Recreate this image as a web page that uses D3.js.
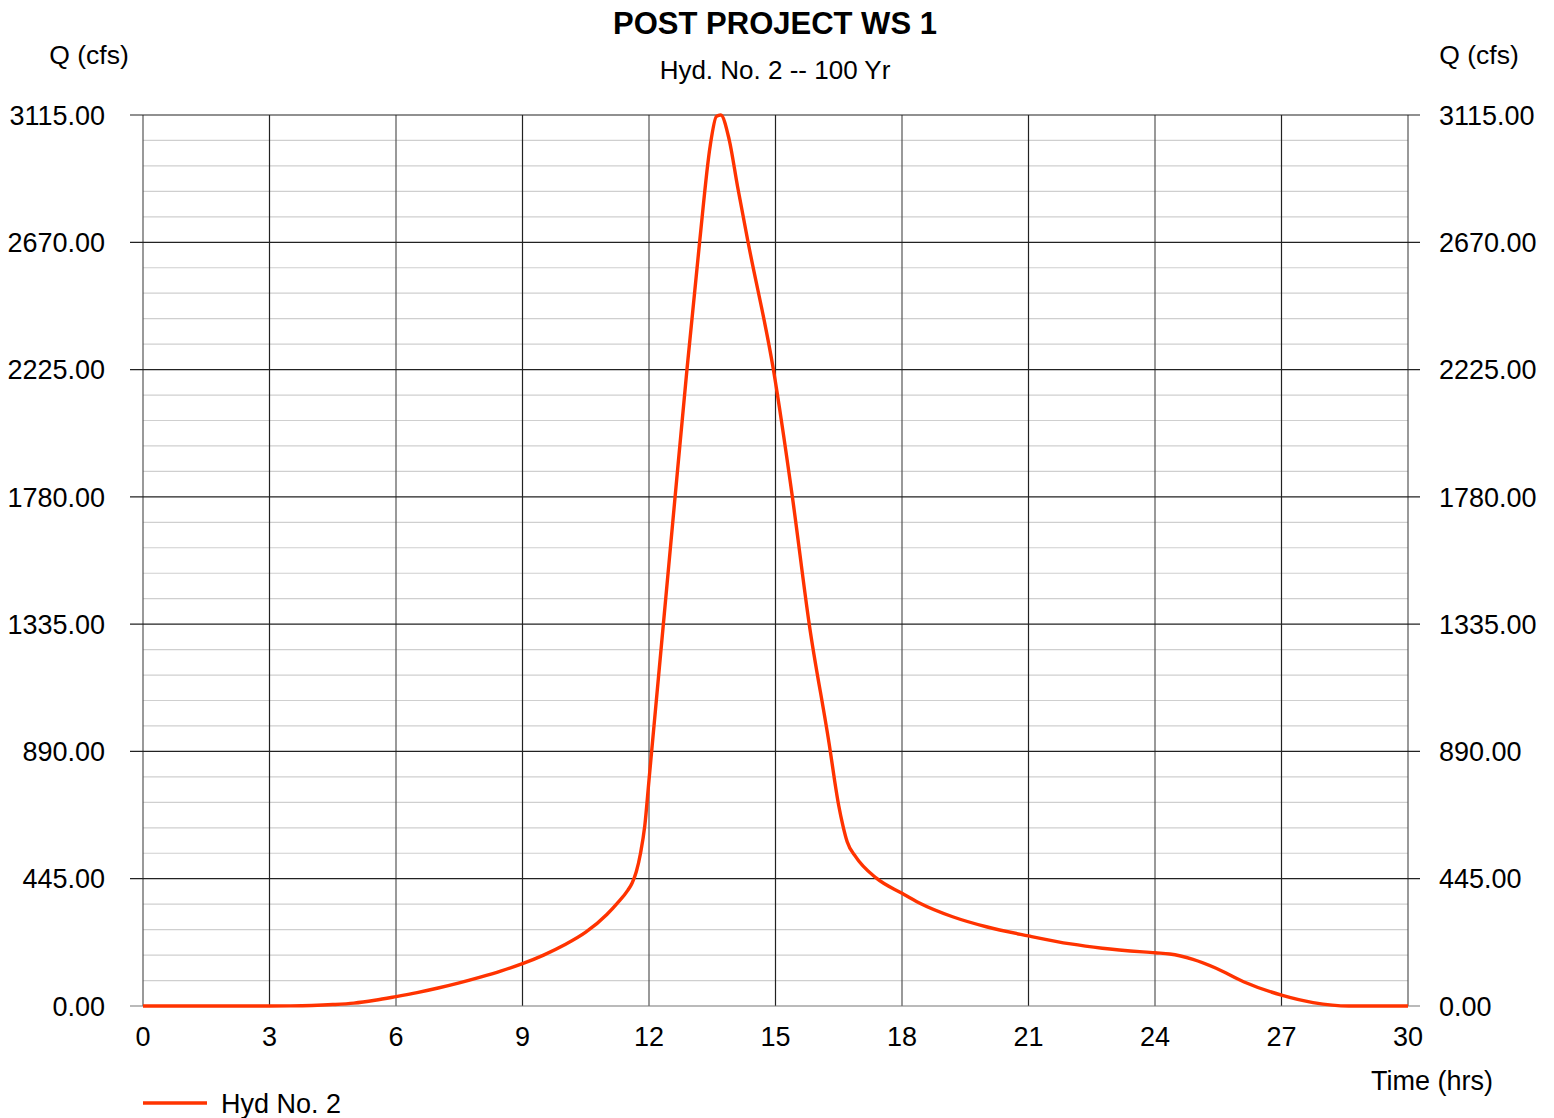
<!DOCTYPE html>
<html>
<head>
<meta charset="utf-8">
<script src="https://cdn.jsdelivr.net/npm/d3@7"></script>
<style>
  body { margin: 0; background: #fff; }
  svg { font-family: "Liberation Sans", Arial, Helvetica, sans-serif; }
</style>
</head>
<body>
<svg id="chart" width="1554" height="1118"></svg>
<script>
// hydrograph: time (hrs) and flow (cfs)
const hours = [0, 1, 2, 3, 3.5, 4, 4.5, 5, 5.5, 6, 6.5, 7, 7.5, 8, 8.5, 9, 9.5, 10, 10.5, 11,
  11.25, 11.5, 11.6, 11.7, 11.8, 11.9, 12.0, 12.3, 12.6, 12.9, 13.2, 13.45, 13.6, 13.7, 13.9,
  14.1, 14.35, 14.95, 15.4, 15.8, 16.3, 16.4, 16.5, 16.6, 16.7, 16.9, 17.4, 18, 18.4, 19.2, 20, 21, 22,
  22.75, 24, 24.35, 24.9, 25.45, 26.1, 27, 27.75, 28.6, 29, 30];
const flows = [0, 0, 0, 0, 0.5, 2, 5, 10, 20, 33, 47, 63, 81, 101, 123, 148, 178, 214, 258, 320,
  360, 405, 430, 470, 535, 630, 790, 1270, 1750, 2225, 2670, 3006, 3110, 3115, 3030,
  2865, 2670, 2225, 1780, 1335, 890, 790, 700, 630, 574, 522, 446, 394, 361, 312, 277, 245, 217,
  202, 186, 182, 163, 132, 85, 38, 12, 0, 0, 0];

const xTicks = [0, 3, 6, 9, 12, 15, 18, 21, 24, 27, 30];
const yTicks = [0, 445, 890, 1335, 1780, 2225, 2670, 3115];
const yMinorStep = 89;

const title = "POST PROJECT WS 1";
const subtitle = "Hyd. No. 2 -- 100 Yr";
const seriesName = "Hyd No. 2";

const svg = d3.select("#chart");
const plotL = 143, plotR = 1408, plotT = 115, plotB = 1006;

const x = d3.scaleLinear().domain([0, 30]).range([plotL, plotR]);
const y = d3.scaleLinear().domain([0, 3115]).range([plotB, plotT]);

// minor grid
const minor = d3.range(0, 3115 + 1, yMinorStep).filter(v => yTicks.indexOf(v) < 0);
svg.append("g").selectAll("line")
  .data(minor)
  .join("line")
  .attr("x1", plotL).attr("x2", plotR)
  .attr("y1", d => y(d)).attr("y2", d => y(d))
  .attr("stroke", "#cfcfcf").attr("stroke-width", 1.2);

// vertical grid
svg.append("g").selectAll("line")
  .data(xTicks)
  .join("line")
  .attr("x1", d => x(d)).attr("x2", d => x(d))
  .attr("y1", plotT).attr("y2", plotB)
  .attr("stroke", (d, i) => i % 2 === 0 ? "#555" : "#222").attr("stroke-width", 1.2);

// major horizontal grid, sticking out both sides
svg.append("g").selectAll("line")
  .data(yTicks)
  .join("line")
  .attr("x1", plotL - 13).attr("x2", plotR + 12)
  .attr("y1", d => y(d)).attr("y2", d => y(d))
  .attr("stroke", d => d === 0 ? "#777" : "#222").attr("stroke-width", 1.2);

// tick labels
const fmt = d3.format(".2f");
svg.append("g").selectAll("text")
  .data(yTicks)
  .join("text")
  .attr("x", 105).attr("y", d => y(d))
  .attr("dy", "0.36em")
  .attr("text-anchor", "end")
  .style("font-size", "27px")
  .text(d => fmt(d));
svg.append("g").selectAll("text")
  .data(yTicks)
  .join("text")
  .attr("x", 1439).attr("y", d => y(d))
  .attr("dy", "0.36em")
  .style("font-size", "27px")
  .text(d => fmt(d));
svg.append("g").selectAll("text")
  .data(xTicks)
  .join("text")
  .attr("x", d => x(d)).attr("y", 1046)
  .attr("text-anchor", "middle")
  .style("font-size", "27px")
  .text(d => d);

// titles
svg.append("text").attr("x", 775).attr("y", 34).attr("text-anchor", "middle")
  .style("font-size", "31px").style("font-weight", "bold").text(title);
svg.append("text").attr("x", 775).attr("y", 79).attr("text-anchor", "middle")
  .style("font-size", "26px").text(subtitle);
svg.append("text").attr("x", 89).attr("y", 64).attr("text-anchor", "middle")
  .style("font-size", "26.5px").text("Q (cfs)");
svg.append("text").attr("x", 1479).attr("y", 64).attr("text-anchor", "middle")
  .style("font-size", "26.5px").text("Q (cfs)");
svg.append("text").attr("x", 1432).attr("y", 1090).attr("text-anchor", "middle")
  .style("font-size", "27px").text("Time (hrs)");

// the hydrograph
const pts = hours.map((h, i) => [h, flows[i]]);
const line = d3.line().x(d => x(d[0])).y(d => y(d[1])).curve(d3.curveMonotoneX);
svg.append("path")
  .datum(pts)
  .attr("d", line)
  .attr("fill", "none")
  .attr("stroke", "#ff3300")
  .attr("stroke-width", 3.4)
  .attr("stroke-linejoin", "round");

// legend
svg.append("line").attr("x1", 143).attr("x2", 207).attr("y1", 1103).attr("y2", 1103)
  .attr("stroke", "#ff3300").attr("stroke-width", 3.4);
svg.append("text").attr("x", 221).attr("y", 1113)
  .style("font-size", "27px").text(seriesName);
</script>
</body>
</html>
